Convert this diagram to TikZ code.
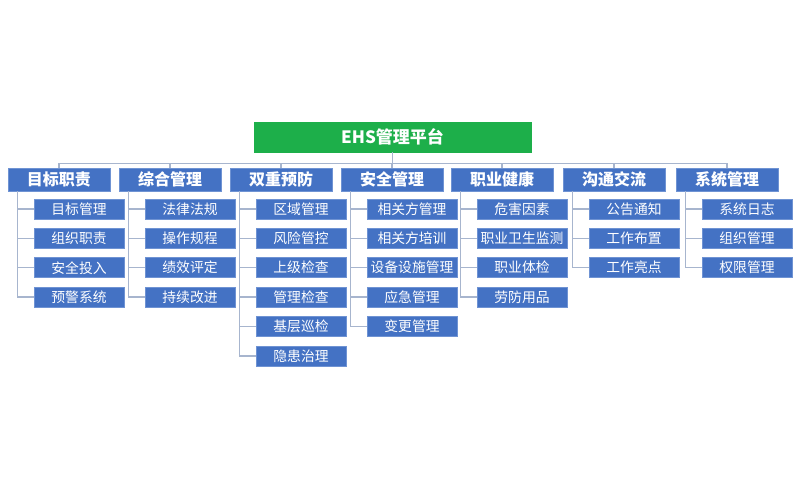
\documentclass[tikz,border=0pt]{standalone}
\usepackage{fontspec}
\setmainfont{Noto Sans CJK SC}
\usepackage{xcolor}
\usetikzlibrary{positioning, calc}
\definecolor{bleuboite}{HTML}{4472C4}
\definecolor{bordboite}{HTML}{6F93D3}
\definecolor{ligneplat}{HTML}{A7B5CE}
\definecolor{vertplat}{HTML}{1DAF4A}
\tikzstyle{racine} = [rectangle, fill=vertplat, draw=vertplat, minimum height=30pt, minimum width=277pt, text=white, font=\fontsize{17}{17}\selectfont\bfseries, inner sep=0pt]
\tikzstyle{categorie} = [rectangle, fill=bleuboite, draw=bordboite, line width=0.8pt, minimum height=23pt, minimum width=102pt, text=white, font=\fontsize{16}{16}\selectfont\bfseries, inner sep=0pt]
\tikzstyle{module} = [rectangle, fill=bleuboite, draw=bordboite, line width=0.8pt, minimum height=20pt, minimum width=90pt, text=white, font=\fontsize{13.8}{13.8}\selectfont, inner sep=0pt]
\tikzstyle{ligne} = [-, draw=ligneplat, line width=1.4pt]

\begin{document}
\begin{tikzpicture}[x=1pt, y=-1pt]
    %% fond
    \fill[white] (0,0) rectangle (800,500);
    \useasboundingbox (0,0) rectangle (800,500);

    %% plateforme EHS
    \node (racine) [racine] at (392.5,137) {EHS管理平台};

    %% catégories
    \foreach \nom/\cx [count=\i] in {目标职责/59, 综合管理/170, 双重预防/281, 安全管理/392, 职业健康/502, 沟通交流/614, 系统管理/727}{
        \node (cat\i) [categorie] at (\cx,179.5) {\nom};
        \draw[ligne] (racine.south) -- ++(0,11) -| (cat\i.north);
    }

    %% modules de chaque catégorie
    \foreach \i/\liste in {1/{目标管理,组织职责,安全投入,预警系统},
                           2/{法律法规,操作规程,绩效评定,持续改进},
                           3/{区域管理,风险管控,上级检查,管理检查,基层巡检,隐患治理},
                           4/{相关方管理,相关方培训,设备设施管理,应急管理,变更管理},
                           5/{危害因素,职业卫生监测,职业体检,劳防用品},
                           6/{公告通知,工作布置,工作亮点},
                           7/{系统日志,组织管理,权限管理}}{
        \foreach \mod [count=\j] in \liste {
            \node (mod\i-\j) [module] at ($(cat\i.south)+(20,{17.5+29.4*(\j-1)})$) {\mod};
            \draw[ligne] ([xshift=10pt]cat\i.south west) |- (mod\i-\j.west);
        }
    }
\end{tikzpicture}
\end{document}
